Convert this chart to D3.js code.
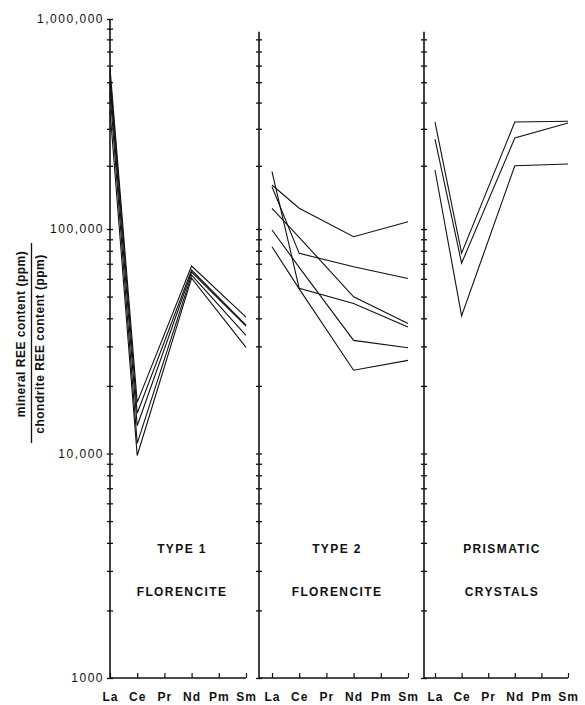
<!DOCTYPE html>
<html>
<head>
<meta charset="utf-8">
<script src="https://cdn.jsdelivr.net/npm/d3@7"></script>
<style>
  body { margin: 0; background: #fff; }
  text { font-family: "Liberation Sans", Arial, sans-serif; fill: #111; }
</style>
</head>
<body>
<svg width="585" height="705"></svg>
<script>
// rare earth elements along the x axis
const elements = ['La', 'Ce', 'Pr', 'Nd', 'Pm', 'Sm'];

// mineral / chondrite REE ratios, one row per analysis (Pr and Pm not measured)
const type1 = [
  [584000, 16900, null, 68400, null, 40500],
  [547000, 15100, null, 65600, null, 37300],
  [501000, 13300, null, 64300, null, 36900],
  [449000, 11100, null, 62300, null, 33600],
  [368000,  9800, null, 60400, null, 29700]
];
const type2 = [
  [162000, 125500, null, 92400, null, 108300],
  [187500,  54400, null, 46600, null,  36600],
  [159000,  77900, null, 67900, null,  60200],
  [125500,  91800, null, 49900, null,  37900],
  [ 99000,  67500, null, 31900, null,  29600],
  [ 83400,  54100, null, 23500, null,  26000]
];
const prismatic = [
  [323000, 78100, null, 323000, null, 326000],
  [268000, 70500, null, 271000, null, 320000],
  [191000, 41000, null, 200000, null, 204000]
];

const panelTitles = [['TYPE 1', 'FLORENCITE'], ['TYPE 2', 'FLORENCITE'], ['PRISMATIC', 'CRYSTALS']];
const decadeTicks = [1000, 10000, 100000, 1000000];
const decadeLabels = ['1000', '10,000', '100,000', '1,000,000'];

const svg = d3.select('svg');
svg.append('rect').attr('width', 585).attr('height', 705).attr('fill', '#fff');

// the drawn top decade is a little squeezed in the original
const y = d3.scaleLog()
  .domain([1000, 100000, 1000000])
  .range([678, 229, 19]);

const panels = [
  { data: type1, axisX: 110, x0: 110, x1: 246, top: 1000000, titleX: 182 },
  { data: type2, axisX: 259, x0: 272, x1: 408, top: 870000, titleX: 337 },
  { data: prismatic, axisX: 424, x0: 435, x1: 568, top: 870000, titleX: 502 }
];

const minorTicks = y.ticks();

panels.forEach((p, i) => {
  const x = d3.scalePoint().domain(elements).range([p.x0, p.x1]);
  const g = svg.append('g');

  // vertical axis with ticks crossing both sides
  g.append('line')
    .attr('x1', p.axisX).attr('x2', p.axisX)
    .attr('y1', y(p.top)).attr('y2', y(1000))
    .attr('stroke', '#111').attr('stroke-width', 1.6);

  const ticks = minorTicks.filter(t => t <= p.top);
  const leftAxis = d3.axisLeft(y).tickValues(ticks).tickSize(3).tickSizeOuter(0)
    .tickPadding(3)
    .tickFormat(d => (i === 0 && decadeTicks.includes(d)) ? decadeLabels[decadeTicks.indexOf(d)] : '');
  g.append('g')
    .attr('transform', `translate(${p.axisX},0)`)
    .call(leftAxis)
    .call(a => a.select('.domain').remove())
    .call(a => a.selectAll('line').attr('stroke', '#111').attr('stroke-width', 1.3))
    .call(a => a.selectAll('text')
      .attr('font-size', 12).attr('letter-spacing', '1.5px')
      .attr('font-family', '"Liberation Sans", Arial, sans-serif')
      .attr('fill', '#111'));
  g.append('g')
    .attr('transform', `translate(${p.axisX},0)`)
    .call(d3.axisRight(y).tickValues(ticks).tickSize(3).tickSizeOuter(0).tickFormat(''))
    .call(a => a.select('.domain').remove())
    .call(a => a.selectAll('line').attr('stroke', '#111').attr('stroke-width', 1.3));

  // bottom axis
  g.append('line')
    .attr('x1', p.axisX).attr('x2', p.x1)
    .attr('y1', y(1000)).attr('y2', y(1000))
    .attr('stroke', '#111').attr('stroke-width', 1.5);
  g.append('g')
    .attr('transform', `translate(0,${y(1000)})`)
    .call(d3.axisBottom(x).tickSize(-5).tickSizeOuter(0).tickPadding(14))
    .call(a => a.select('.domain').remove())
    .call(a => a.selectAll('line').attr('stroke', '#111').attr('stroke-width', 1.2))
    .call(a => a.selectAll('text')
      .attr('font-size', 12).attr('font-weight', 'bold').attr('letter-spacing', '1px')
      .attr('font-family', '"Liberation Sans", Arial, sans-serif')
      .attr('fill', '#111'));

  // REE patterns
  const line = d3.line().x(d => x(d.el)).y(d => y(d.v));
  g.selectAll('path.ree')
    .data(p.data.map(row => elements.map((el, k) => ({ el, v: row[k] })).filter(d => d.v != null)))
    .join('path')
      .attr('class', 'ree')
      .attr('d', line)
      .attr('fill', 'none')
      .attr('stroke', '#111')
      .attr('stroke-width', 1.1);

  // panel titles
  g.selectAll('text.title')
    .data(panelTitles[i])
    .join('text')
      .attr('class', 'title')
      .attr('x', p.titleX)
      .attr('y', (d, k) => 553 + k * 43)
      .attr('text-anchor', 'middle')
      .attr('font-size', 12)
      .attr('font-weight', 'bold')
      .attr('letter-spacing', '1.4px')
      .text(d => d);
});

// y axis title drawn as a fraction
const title = svg.append('g').attr('transform', 'translate(30,340) rotate(-90)');
title.append('text')
  .attr('x', 6).attr('y', -9).attr('dy', '0.35em')
  .attr('text-anchor', 'middle')
  .attr('font-size', 12).attr('font-weight', 'bold').attr('letter-spacing', '0.5px')
  .text('mineral REE content (ppm)');
title.append('line')
  .attr('x1', -103).attr('x2', 97)
  .attr('y1', 1.5).attr('y2', 1.5)
  .attr('stroke', '#111').attr('stroke-width', 1.3);
title.append('text')
  .attr('x', -4).attr('y', 10).attr('dy', '0.35em')
  .attr('text-anchor', 'middle')
  .attr('font-size', 12).attr('font-weight', 'bold').attr('letter-spacing', '0.5px')
  .text('chondrite REE content (ppm)');
</script>
</body>
</html>
